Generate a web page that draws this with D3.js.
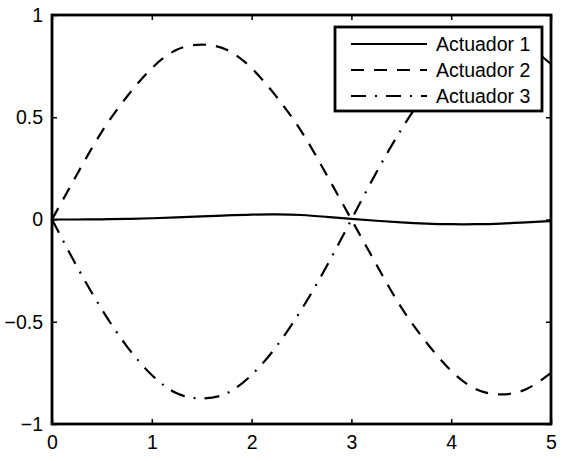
<!DOCTYPE html>
<html>
<head>
<meta charset="utf-8">
<script src="https://cdn.jsdelivr.net/npm/d3@7"></script>
<style>
  body { margin: 0; background: #fff; }
  svg { display: block; font-family: "Liberation Sans", Arial, sans-serif; }
</style>
</head>
<body>
<script>
const width = 562;
const height = 461;

// x positions (0 to 5 in quarter steps) and values
const xs = [0, 0.25, 0.5, 0.75, 1, 1.25, 1.5, 1.75, 2, 2.25, 2.5, 2.75, 3, 3.25, 3.5, 3.75, 4, 4.25, 4.5, 4.75, 5];
const act1 = [0, 0, 0.001, 0.003, 0.006, 0.01, 0.015, 0.02, 0.024, 0.025, 0.022, 0.013, 0.003, -0.006, -0.014, -0.02, -0.023, -0.023, -0.02, -0.014, -0.008];
const act2 = [0, 0.22, 0.43, 0.6, 0.74, 0.83, 0.855, 0.83, 0.74, 0.6, 0.43, 0.22, 0, -0.22, -0.43, -0.6, -0.74, -0.83, -0.855, -0.83, -0.75];
const act3 = [0, -0.23, -0.44, -0.62, -0.76, -0.85, -0.875, -0.85, -0.76, -0.62, -0.44, -0.23, 0, 0.23, 0.44, 0.62, 0.76, 0.85, 0.875, 0.85, 0.76];

const labels = ["Actuador 1", "Actuador 2", "Actuador 3"];
const dashes = [null, "13,10", "15,9,2,9"];
const xTicks = [0, 1, 2, 3, 4, 5];
const yTicks = [-1, -0.5, 0, 0.5, 1];

const pLeft = 52, pRight = 551, pTop = 15, pBottom = 424;

const svg = d3.select("body")
    .append("svg")
    .attr("width", width)
    .attr("height", height);

const x = d3.scaleLinear().domain([0, 5]).range([pLeft, pRight]);
const y = d3.scaleLinear().domain([-1, 1]).range([pBottom, pTop]);

const series = [act1, act2, act3];

const line = d3.line()
    .x((d, i) => x(xs[i]))
    .y(d => y(d))
    .curve(d3.curveNatural);

const plot = svg.append("g");

plot.selectAll("path.curve")
    .data(series)
    .enter()
    .append("path")
    .attr("class", "curve")
    .attr("d", line)
    .attr("fill", "none")
    .attr("stroke", "#000")
    .attr("stroke-width", 2.2)
    .attr("stroke-dasharray", (d, i) => dashes[i]);

// ticks on all four sides, pointing in
const tickLen = 5;
const fmt = v => v < 0 ? "\u2212" + Math.abs(v) : String(v);

svg.append("g")
    .attr("transform", `translate(0,${pBottom})`)
    .call(d3.axisBottom(x).tickValues(xTicks).tickSize(-tickLen).tickPadding(11).tickFormat(fmt))
    .call(g => g.select(".domain").remove());

svg.append("g")
    .attr("transform", `translate(0,${pTop})`)
    .call(d3.axisTop(x).tickValues(xTicks).tickSize(-tickLen).tickFormat(""))
    .call(g => g.select(".domain").remove());

svg.append("g")
    .attr("transform", `translate(${pLeft},0)`)
    .call(d3.axisLeft(y).tickValues(yTicks).tickSize(-tickLen).tickPadding(9).tickFormat(fmt))
    .call(g => g.select(".domain").remove());

svg.append("g")
    .attr("transform", `translate(${pRight},0)`)
    .call(d3.axisRight(y).tickValues(yTicks).tickSize(-tickLen).tickFormat(""))
    .call(g => g.select(".domain").remove());

svg.selectAll(".tick line")
    .attr("stroke", "#000")
    .attr("stroke-width", 1.5);

svg.selectAll(".tick text")
    .attr("font-size", 19.5)
    .attr("fill", "#000")
    .attr("font-family", "Liberation Sans, Arial, sans-serif");

svg.append("rect")
    .attr("x", pLeft)
    .attr("y", pTop)
    .attr("width", pRight - pLeft)
    .attr("height", pBottom - pTop)
    .attr("fill", "none")
    .attr("stroke", "#000")
    .attr("stroke-width", 2.8);

// legend
const legend = svg.append("g");

legend.append("rect")
    .attr("x", 335)
    .attr("y", 27)
    .attr("width", 207)
    .attr("height", 84)
    .attr("fill", "#fff")
    .attr("stroke", "#000")
    .attr("stroke-width", 2.8);

const rows = legend.selectAll("g.row")
    .data(labels)
    .enter()
    .append("g")
    .attr("class", "row")
    .attr("transform", (d, i) => `translate(0,${44 + i * 26})`);

rows.append("line")
    .attr("x1", 351)
    .attr("x2", 427)
    .attr("stroke", "#000")
    .attr("stroke-width", 2.2)
    .attr("stroke-dasharray", (d, i) => dashes[i]);

rows.append("text")
    .attr("x", 436)
    .attr("y", 7)
    .attr("font-size", 19.5)
    .text(d => d);
</script>
</body>
</html>
